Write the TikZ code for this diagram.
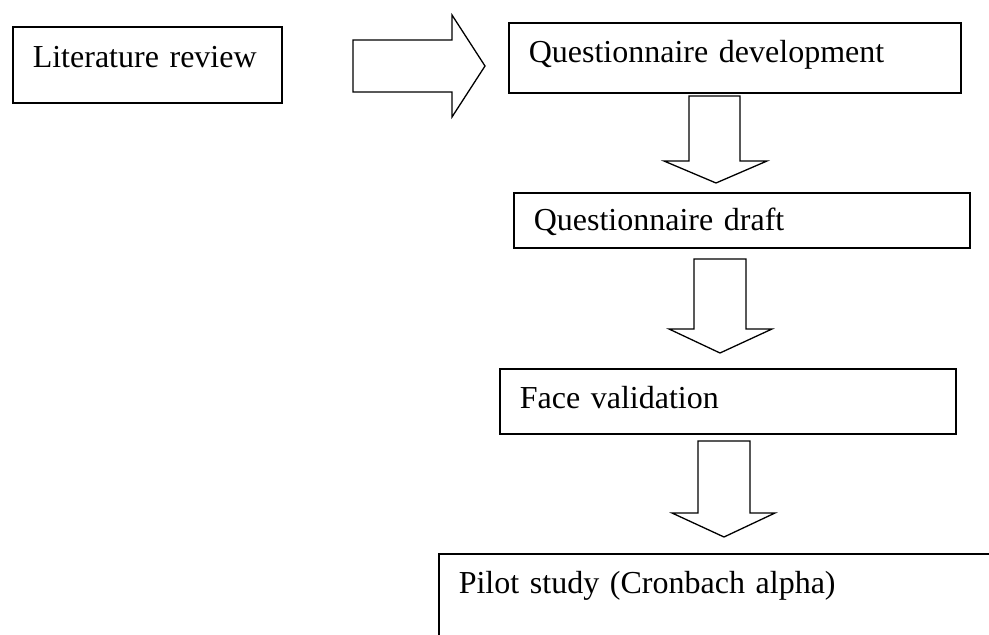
\documentclass[tikz,border=0pt]{standalone}
\usepackage{fontspec}
\setmainfont{Liberation Serif}

\begin{document}
\begin{tikzpicture}[x=1pt, y=-1pt, every node/.style={font=\fontsize{32}{38}\selectfont},
  stagebox/.style={draw, line width=1.6pt, anchor=north west, inner xsep=20pt, inner ysep=0pt, align=left},
  hollow/.style={draw, line width=1.3pt, line join=miter, fill=white}]

\clip (0,0) rectangle (989,635);

% Nodes
\node (lit) [stagebox, text width=229pt, text height=41pt, text depth=35pt] at (12,26) {Literature review};
\node (qdev) [stagebox, text width=412pt, text height=40pt, text depth=30pt] at (508,22) {Questionnaire development};
\node (qdraft) [stagebox, text width=416pt, text height=38pt, text depth=17pt] at (513,192) {Questionnaire draft};
\node (face) [stagebox, text width=416pt, text height=40pt, text depth=25pt] at (499,368) {Face validation};
\node (pilot) [stagebox, text width=660pt, text height=40pt, text depth=120pt] at (438,553) {Pilot study (Cronbach alpha)};

% Block arrows
\draw[hollow] (353,40) -- (452,40) -- (452,15) -- (485,66) -- (452,117) -- (452,92) -- (353,92) -- cycle;
\draw[hollow] (689,96) -- (740,96) -- (740,161) -- (767,161) -- (716,183) -- (664,161) -- (689,161) -- cycle;
\draw[hollow] (694,259) -- (746,259) -- (746,329) -- (772,329) -- (720,353) -- (669,329) -- (694,329) -- cycle;
\draw[hollow] (698,441) -- (750,441) -- (750,513) -- (775,513) -- (724,537) -- (672,513) -- (698,513) -- cycle;

\end{tikzpicture}
\end{document}
